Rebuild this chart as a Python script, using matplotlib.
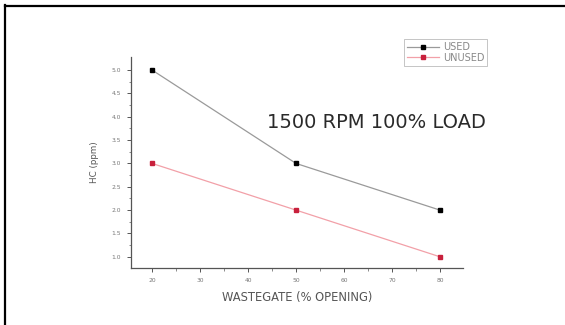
import matplotlib
matplotlib.use("Agg")
import matplotlib.pyplot as plt
from matplotlib.lines import Line2D

# Data
wastegate = [20, 50, 80]
used = [5.0, 3.0, 2.0]
unused = [3.0, 2.0, 1.0]
xticks = [20, 30, 40, 50, 60, 70, 80]
yticks = [1.0, 1.5, 2.0, 2.5, 3.0, 3.5, 4.0, 4.5, 5.0]

plt.rcParams['font.family'] = ['DejaVu Sans']

fig = plt.figure(figsize=(5.65, 3.25), dpi=100)
ax = fig.add_axes([131/565, 1-268/325, (463-131)/565, (268-57)/325])

ax.plot(wastegate, used, color='#9a9a9a', lw=0.9, marker='s', ms=3.3,
        mfc='black', mec='black', label='USED')
ax.plot(wastegate, unused, color='#f2a0a8', lw=0.9, marker='s', ms=3.3,
        mfc='#c8203c', mec='#c8203c', label='UNUSED')

ax.set_xlim(15.6, 84.8)
ax.set_ylim(0.76, 5.28)
ax.set_xticks(xticks)
ax.set_xticklabels([str(t) for t in xticks])
ax.set_yticks(yticks)
ax.set_yticklabels([f"{t:.1f}" for t in yticks])
ax.set_xticks([25, 35, 45, 55, 65, 75], minor=True)
ax.set_yticks([1.25, 1.75, 2.25, 2.75, 3.25, 3.75, 4.25, 4.75], minor=True)

for s in ['top', 'right']:
    ax.spines[s].set_visible(False)
for s in ['left', 'bottom']:
    ax.spines[s].set_color('#555555')
    ax.spines[s].set_linewidth(0.9)
ax.tick_params(which='major', length=3, width=0.7, color='#555555',
               labelsize=4.3, labelcolor='#777777', pad=4)
ax.tick_params(which='minor', length=1.8, width=0.6, color='#777777')

ax.set_xlabel('WASTEGATE (% OPENING)', fontsize=8.3, color='#555555', labelpad=6)
ax.set_ylabel('HC (ppm)', fontsize=6.3, color='#555555', labelpad=9)

fig.text(376/565, 1-122/325, '1500 RPM 100% LOAD', fontsize=14,
         color='#2a2a2a', ha='center', va='center', fontweight='medium')

handles = [Line2D([], [], color='#9a9a9a', lw=0.9, marker='s', ms=3, mfc='black', mec='black'),
           Line2D([], [], color='#f2a0a8', lw=0.9, marker='s', ms=3, mfc='#c8203c', mec='#c8203c')]
leg = fig.legend(handles, ['USED', 'UNUSED'], loc='upper left',
                 bbox_to_anchor=(404/565, 1-39/325), fontsize=7,
                 frameon=True, fancybox=False, edgecolor='#aaaaaa',
                 handlelength=3.3, handletextpad=0.4, borderpad=0.3,
                 labelspacing=0.1, borderaxespad=0)
leg.get_frame().set_linewidth(0.6)
for t in leg.get_texts():
    t.set_color('#888888')

# outer frame (left and top)
fig.add_artist(Line2D([4.5/565, 4.5/565], [0, 1-5/325], color='black', lw=1.6))
fig.add_artist(Line2D([4.5/565, 1], [1-5.5/325, 1-5.5/325], color='black', lw=1.6))

fig.savefig('out.png', dpi=100)
